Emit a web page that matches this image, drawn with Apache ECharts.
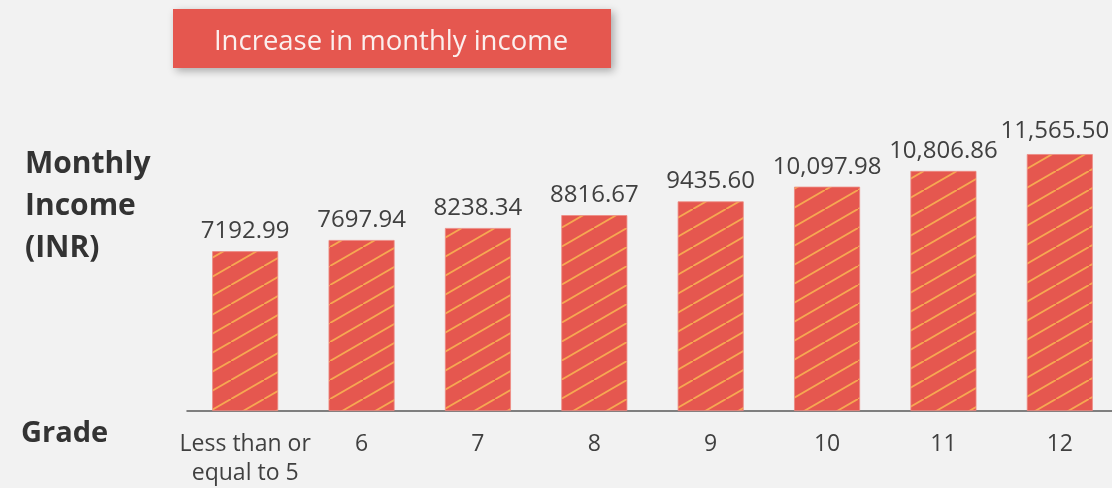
<!DOCTYPE html>
<html><head><meta charset="utf-8">
<script src="https://cdn.jsdelivr.net/npm/echarts@6/dist/echarts.min.js"></script>
<style>html,body{margin:0;padding:0;background:#f2f2f2;overflow:hidden}#c{width:1118px;height:488px}</style>
</head><body><div id="c"></div>
<script>
const categories = ['Less than or\nequal to 5', '6', '7', '8', '9', '10', '11', '12'];
const incomeValues = [7192.99, 7697.94, 8238.34, 8816.67, 9435.60, 10097.98, 10806.86, 11565.50];
const valueLabels = ['7192.99', '7697.94', '8238.34', '8816.67', '9435.60', '10,097.98', '10,806.86', '11,565.50'];
const chartTitle = 'Increase in monthly income';
const yTitle = 'Monthly\nIncome\n(INR)';
const xTitle = 'Grade';

// stripe pattern
const tw = 33, th = 19;
const pc = document.createElement('canvas');
pc.width = tw; pc.height = th;
const g = pc.getContext('2d');
g.fillStyle = '#e5574f'; g.fillRect(0, 0, tw, th);
g.strokeStyle = '#f6a852'; g.lineWidth = 1.9;
for (const [dx, dy] of [[0,0],[-tw,th],[tw,-th]]) {
  g.beginPath(); g.moveTo(dx, th + dy); g.lineTo(tw + dx, dy); g.stroke();
}

const font = '"Open Sans", "Liberation Sans", sans-serif';
const seriesData = incomeValues.map((v, i) =>
  i === incomeValues.length - 1 ? { value: v, label: { offset: [-5, -3] } } : v);

const chart = echarts.init(document.getElementById('c'));
chart.setOption({
  backgroundColor: '#f2f2f2',
  animation: false,
  grid: { left: 187, top: 100, right: 0, height: 311 },
  xAxis: {
    type: 'category', data: categories,
    axisLine: { lineStyle: { color: '#595959', width: 1.5 } },
    axisTick: { show: false },
    axisLabel: { color: '#404040', fontSize: 23, fontFamily: font, margin: 19, lineHeight: 29, interval: 0 }
  },
  yAxis: { type: 'value', min: 0, max: 14000, show: false, splitLine: { show: false } },
  series: [{
    type: 'bar', data: seriesData, barWidth: 66,
    itemStyle: { color: { image: pc, repeat: 'repeat' }, borderColor: '#ee8a83', borderWidth: 0.8 },
    label: {
      show: true, position: 'top', distance: 8, color: '#404040', fontSize: 24, fontFamily: font,
      formatter: p => valueLabels[p.dataIndex]
    }
  }],
  graphic: [
    { type: 'rect', left: 173, top: 9, shape: { width: 438, height: 59 },
      style: { fill: '#e5574f', shadowBlur: 8, shadowOffsetX: 3, shadowOffsetY: 3, shadowColor: 'rgba(0,0,0,0.3)' } },
    { type: 'text', x: 391, y: 42, style: { text: chartTitle, fill: '#fbefee', font: '27.5px ' + font, align: 'center', verticalAlign: 'middle' } },
    { type: 'text', left: 25, top: 143, style: { text: yTitle, fill: '#333333', font: 'bold 30px ' + font, lineHeight: 42 } },
    { type: 'text', left: 21, top: 419, style: { text: xTitle, fill: '#333333', font: 'bold 29px ' + font } }
  ]
});
</script></body></html>
